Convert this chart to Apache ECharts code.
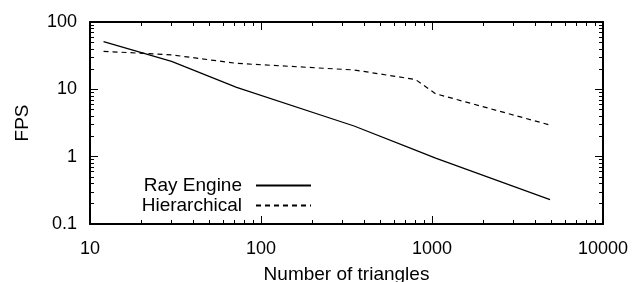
<!DOCTYPE html>
<html>
<head>
<meta charset="utf-8">
<script src="https://cdn.jsdelivr.net/npm/echarts@6/dist/echarts.min.js"></script>
<style>
  html, body { margin: 0; padding: 0; background: #fff; }
  #chart { width: 632px; height: 282px; }
</style>
</head>
<body>
<div id="chart"></div>
<script>
// number of triangles (x) and FPS (y)
var triangles = [12, 30, 72, 350, 800, 1050, 4900];
var rayEngine = [51, 26, 10.7, 2.85, 1.25, 0.95, 0.23];
var hierarchical = [36.7, 32.5, 24.3, 19.4, 14, 8.6, 2.95];

// axis ranges (decades)
var xRange = [10, 10000];
var yRange = [0.1, 100];

var FONT = "'Liberation Sans', Arial, sans-serif";
var BLACK = { color: "#000", width: 1 };

function pairs(xs, ys) {
    return xs.map(function (x, i) { return [x, ys[i]]; });
}

function fmt(v) {
    return String(Number(v.toPrecision(6)));
}

// log axis with inward major ticks and 2..9 minor ticks (gnuplot style)
function logAxis(pos, range, labels) {
    return {
        type: "log", logBase: 10, min: range[0], max: range[1], position: pos, gridIndex: 0,
        axisLine: { show: true, onZero: false, lineStyle: { color: "#000", width: 2 } },
        axisTick: { show: true, inside: true, length: 8, lineStyle: BLACK },
        minorTick: { show: true, splitNumber: 9, length: 4, lineStyle: BLACK },
        axisLabel: labels ? {
            show: true, color: "#000", fontFamily: FONT, fontSize: 18, formatter: fmt
        } : { show: false },
        splitLine: { show: false },
        minorSplitLine: { show: false }
    };
}

// thin strip grids whose split lines double as the tick marks
function stripLog(range, grid, major) {
    return {
        type: "log", logBase: 10, min: range[0], max: range[1], gridIndex: grid,
        axisLine: { show: false }, axisTick: { show: false }, axisLabel: { show: false },
        minorTick: { show: false, splitNumber: 9 },
        splitLine: { show: major, lineStyle: BLACK },
        minorSplitLine: { show: !major, lineStyle: BLACK }
    };
}
function stripHidden(grid) {
    return { type: "value", gridIndex: grid, show: false };
}

var chart = echarts.init(document.getElementById("chart"));

var xMain = logAxis("bottom", xRange, true);
xMain.axisLabel.margin = 16;
xMain.name = "Number of triangles";
xMain.nameLocation = "middle";
xMain.nameGap = 41;
xMain.nameTextStyle = { color: "#000", fontFamily: FONT, fontSize: 19 };

var yMain = logAxis("left", yRange, true);
yMain.axisLabel.margin = 13;
yMain.name = "FPS";
yMain.nameLocation = "middle";
yMain.nameGap = 58;
yMain.nameTextStyle = { color: "#000", fontFamily: FONT, fontSize: 19 };

var grids = [
    { left: 90, right: 29, top: 22, bottom: 58, outerBoundsMode: "none" },
    { left: 90, right: 29, top: 216, height: 8, outerBoundsMode: "none" },
    { left: 90, right: 29, top: 220, height: 4, outerBoundsMode: "none" },
    { left: 90, right: 29, top: 22, height: 8, outerBoundsMode: "none" },
    { left: 90, right: 29, top: 22, height: 4, outerBoundsMode: "none" },
    { left: 90, width: 8, top: 22, bottom: 58, outerBoundsMode: "none" },
    { left: 90, width: 4, top: 22, bottom: 58, outerBoundsMode: "none" },
    { right: 29, width: 8, top: 22, bottom: 58, outerBoundsMode: "none" },
    { right: 29, width: 4, top: 22, bottom: 58, outerBoundsMode: "none" }
];

var xAxes = [
    xMain, logAxis("top", xRange, false),
    stripLog(xRange, 1, true), stripLog(xRange, 2, false),
    stripLog(xRange, 3, true), stripLog(xRange, 4, false),
    stripHidden(5), stripHidden(6), stripHidden(7), stripHidden(8)
];
var yAxes = [
    yMain, logAxis("right", yRange, false),
    stripHidden(1), stripHidden(2), stripHidden(3), stripHidden(4),
    stripLog(yRange, 5, true), stripLog(yRange, 6, false),
    stripLog(yRange, 7, true), stripLog(yRange, 8, false)
];

var legendText = { color: "#000", fontFamily: FONT, fontSize: 19, padding: [0, 9, 0, 0] };
var noSymbol = { opacity: 0, color: "transparent", borderWidth: 0 };

var option = {
    animation: false,
    grid: grids,
    legend: [
        { data: ["Ray Engine"], right: 320, top: 176, align: "right", orient: "vertical",
          itemWidth: 55, itemHeight: 12, textStyle: legendText, padding: 0, itemStyle: noSymbol },
        { data: ["Hierarchical"], right: 320, top: 196, align: "right", orient: "vertical",
          itemWidth: 55, itemHeight: 12, textStyle: legendText, padding: 0, itemStyle: noSymbol }
    ],
    xAxis: xAxes,
    yAxis: yAxes,
    series: [
        {
            name: "Ray Engine", type: "line", xAxisIndex: 0, yAxisIndex: 0,
            data: pairs(triangles, rayEngine), symbol: "none",
            lineStyle: { color: "#000", width: 1.2, type: "solid" },
            itemStyle: { color: "#000" }
        },
        {
            name: "Hierarchical", type: "line", xAxisIndex: 0, yAxisIndex: 0,
            data: pairs(triangles, hierarchical), symbol: "none",
            lineStyle: { color: "#000", width: 1.2, type: [5, 4] },
            itemStyle: { color: "#000" }
        }
    ]
};

chart.setOption(option);
</script>
</body>
</html>
